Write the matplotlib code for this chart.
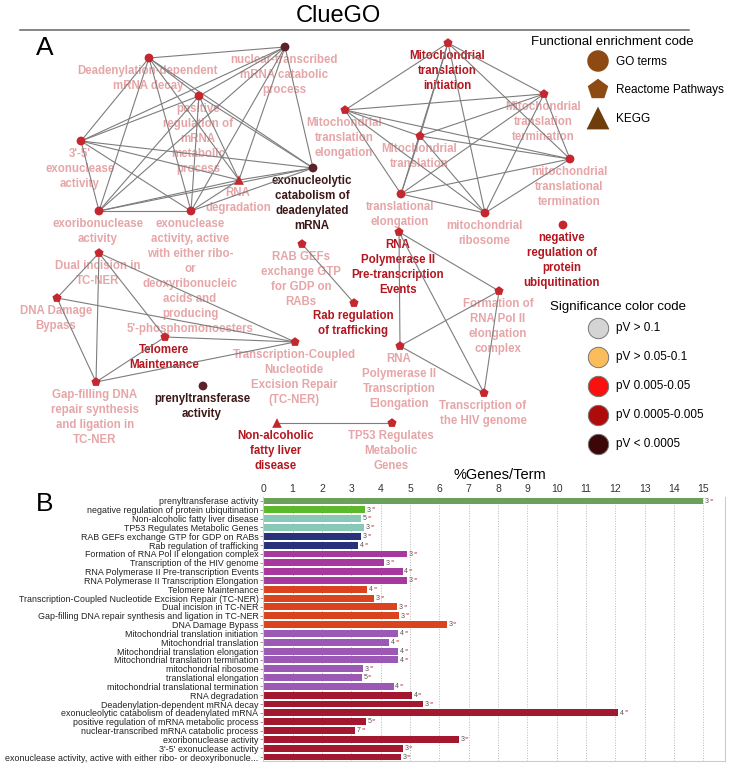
"""
ClueGO network + %Genes/Term bar chart
"""
from itertools import combinations

import matplotlib
matplotlib.use("Agg")
import matplotlib.pyplot as plt

plt.rcParams["font.family"] = ["Liberation Sans", "DejaVu Sans"]

# ---------------- bar chart data (panel B) ----------------
terms = [
    "prenyltransferase activity",
    "negative regulation of protein ubiquitination",
    "Non-alcoholic fatty liver disease",
    "TP53 Regulates Metabolic Genes",
    "RAB GEFs exchange GTP for GDP on RABs",
    "Rab regulation of trafficking",
    "Formation of RNA Pol II elongation complex",
    "Transcription of the HIV genome",
    "RNA Polymerase II Pre-transcription Events",
    "RNA Polymerase II Transcription Elongation",
    "Telomere Maintenance",
    "Transcription-Coupled Nucleotide Excision Repair (TC-NER)",
    "Dual incision in TC-NER",
    "Gap-filling DNA repair synthesis and ligation in TC-NER",
    "DNA Damage Bypass",
    "Mitochondrial translation initiation",
    "Mitochondrial translation",
    "Mitochondrial translation elongation",
    "Mitochondrial translation termination",
    "mitochondrial ribosome",
    "translational elongation",
    "mitochondrial translational termination",
    "RNA degradation",
    "Deadenylation-dependent mRNA decay",
    "exonucleolytic catabolism of deadenylated mRNA",
    "positive regulation of mRNA metabolic process",
    "nuclear-transcribed mRNA catabolic process",
    "exoribonuclease activity",
    "3'-5' exonuclease activity",
    "exonuclease activity, active with either ribo- or deoxyribonucle...",
]
pct_genes = [15.0, 3.47, 3.33, 3.45, 3.33, 3.22, 4.91, 4.11, 4.75, 4.91,
             3.55, 3.79, 4.55, 4.62, 6.25, 4.59, 4.30, 4.59, 4.59, 3.41,
             3.35, 4.44, 5.06, 5.46, 12.1, 3.49, 3.14, 6.66, 4.75, 4.68]
n_genes = [3, 3, 5, 3, 3, 4, 3, 3, 4, 3, 4, 3, 3, 3, 3, 4, 4, 4, 4, 3,
           5, 4, 4, 3, 4, 5, 7, 3, 3, 3]
term_group = [0, 1, 2, 2, 3, 3, 4, 4, 4, 4, 5, 5, 5, 5, 5, 6, 6, 6, 6, 6,
              6, 6, 7, 7, 7, 7, 7, 7, 7, 7]
group_colors = ["#6b9f5a", "#5db92c", "#87c9b6", "#28317a",
                "#a7399e", "#d9441f", "#9b58b4", "#a3172f"]

# ---------------- network data (panel A) ----------------
# key, x, y (pixel layout), shape, label, label style
nodes = [
    ("dead", 149, 58, "o", "Deadenylation-dependent\nmRNA decay", "faded"),
    ("nuc", 285, 47, "o", "nuclear-transcribed\nmRNA catabolic\nprocess", "faded"),
    ("posreg", 199, 96, "o", "positive\nregulation of\nmRNA\nmetabolic\nprocess", "faded"),
    ("exo35", 81, 141, "o", "3'-5'\nexonuclease\nactivity", "faded"),
    ("rnadeg", 239, 180, "^", "RNA\ndegradation", "faded"),
    ("exonucl", 313, 168, "o", "exonucleolytic\ncatabolism of\ndeadenylated\nmRNA", "dark"),
    ("exorib", 99, 211, "o", "exoribonuclease\nactivity", "faded"),
    ("exoact", 191, 211, "o", "exonuclease\nactivity, active\nwith either ribo-\nor\ndeoxyribonucleic\n"
                            "acids and\nproducing\n5'-phosphomonoesters", "faded"),
    ("dual", 99, 253, "p", "Dual incision in\nTC-NER", "faded"),
    ("bypass", 57, 298, "p", "DNA Damage\nBypass", "faded"),
    ("telo", 165, 337, "p", "Telomere\nMaintenance", "red"),
    ("tcner", 295, 342, "p", "Transcription-Coupled\nNucleotide\nExcision Repair\n(TC-NER)", "faded"),
    ("gap", 96, 382, "p", "Gap-filling DNA\nrepair synthesis\nand ligation in\nTC-NER", "faded"),
    ("prenyl", 203, 386, "o", "prenyltransferase\nactivity", "dark"),
    ("nafld", 277, 423, "^", "Non-alcoholic\nfatty liver\ndisease", "red"),
    ("tp53", 392, 423, "p", "TP53 Regulates\nMetabolic\nGenes", "faded"),
    ("rabgef", 302, 244, "p", "RAB GEFs\nexchange GTP\nfor GDP on\nRABs", "faded"),
    ("rabreg", 354, 303, "p", "Rab regulation\nof trafficking", "red"),
    ("pretx", 399, 232, "p", "RNA\nPolymerase II\nPre-transcription\nEvents", "red"),
    ("form", 499, 291, "p", "Formation of\nRNA Pol II\nelongation\ncomplex", "faded"),
    ("polel", 400, 346, "p", "RNA\nPolymerase II\nTranscription\nElongation", "faded"),
    ("hiv", 484, 393, "p", "Transcription of\nthe HIV genome", "faded"),
    ("mtinit", 448, 43, "p", "Mitochondrial\ntranslation\ninitiation", "red"),
    ("mtelong", 345, 110, "p", "Mitochondrial\ntranslation\nelongation", "faded"),
    ("mttrans", 420, 136, "p", "Mitochondrial\ntranslation", "faded"),
    ("mtterm", 544, 94, "p", "Mitochondrial\ntranslation\ntermination", "faded"),
    ("mtlterm", 570, 159, "o", "mitochondrial\ntranslational\ntermination", "faded"),
    ("tlelong", 401, 194, "o", "translational\nelongation", "faded"),
    ("mtribo", 485, 213, "o", "mitochondrial\nribosome", "faded"),
    ("negreg", 563, 225, "o", "negative\nregulation of\nprotein\nubiquitination", "red"),
]
dark_nodes = ["nuc", "exonucl", "prenyl"]

clusters_full = [
    ["dead", "nuc", "posreg", "exo35", "rnadeg", "exonucl", "exorib", "exoact"],
    ["mtinit", "mtelong", "mttrans", "mtterm", "mtlterm", "tlelong", "mtribo"],
    ["pretx", "form", "polel", "hiv"],
]
extra_edges = [
    ("dual", "bypass"), ("dual", "gap"), ("dual", "telo"), ("dual", "tcner"),
    ("bypass", "gap"), ("bypass", "tcner"), ("telo", "gap"), ("telo", "tcner"),
    ("gap", "tcner"),
    ("rabgef", "rabreg"),
    ("nafld", "tp53"),
]

sig_labels = ["pV > 0.1", "pV > 0.05-0.1", "pV 0.005-0.05", "pV 0.0005-0.005", "pV < 0.0005"]
sig_colors = ["#d4d4d4", "#fbbd5c", "#fb1010", "#b00b0b", "#3c0707"]
func_labels = ["GO terms", "Reactome Pathways", "KEGG"]
func_markers = ["o", "p", "^"]
func_colors = ["#8d4a12", "#8d4a12", "#6f3d0c"]

LABEL_COLORS = {"faded": "#e6a6a8", "red": "#b3161f", "dark": "#3d1818"}


def draw_network(bg):
    pos = {k: (x, y) for k, x, y, *_ in nodes}
    edges = list(extra_edges)
    for cl in clusters_full:
        edges += list(combinations(cl, 2))

    for key, x, y, shape, label, style in nodes:
        bg.text(x - 1, y + 7, label, ha="center", va="top", fontsize=8.3,
                fontweight="bold", color=LABEL_COLORS[style],
                linespacing=1.34, zorder=1)

    for a, b in edges:
        (x1, y1), (x2, y2) = pos[a], pos[b]
        bg.plot([x1, x2], [y1, y2], color="#7d7d7d", lw=0.8, zorder=2)

    for key, x, y, shape, label, style in nodes:
        col = "#5b2227" if key in dark_nodes else "#c4272e"
        size = 40 if shape == "o" else 48
        bg.scatter([x], [y], s=size, marker=shape, color=col,
                   edgecolors="none", zorder=3)


def draw_legends(bg):
    bg.text(612, 42, "Functional enrichment code", ha="center", va="center",
            fontsize=9.5)
    for i, (lab, mk, col) in enumerate(zip(func_labels, func_markers, func_colors)):
        y = 61 + i * 28.5
        bg.scatter([598], [y], s=240 if mk != "^" else 270, marker=mk,
                   color=col, edgecolors="none", zorder=3)
        bg.text(616, y + 1, lab, ha="left", va="center", fontsize=8.5)

    bg.text(618, 307, "Significance color code", ha="center", va="center",
            fontsize=9.5)
    for i, (lab, col) in enumerate(zip(sig_labels, sig_colors)):
        y = 328 + i * 29
        bg.scatter([598], [y], s=215, marker="o", color=col,
                   edgecolors="#777777", linewidths=0.7, zorder=3)
        bg.text(616, y, lab, ha="left", va="center", fontsize=8.5)


def draw_bars(ax):
    idx = list(range(len(terms)))
    cols = [group_colors[g] for g in term_group]
    ax.barh(idx, pct_genes, height=0.78, color=cols, zorder=2)
    for i, (v, n) in enumerate(zip(pct_genes, n_genes)):
        ax.annotate(str(n), xy=(v, i), xytext=(1.2, -0.2), textcoords="offset points",
                    fontsize=5, color="#555555", va="center", ha="left")
        ax.annotate("**", xy=(v, i), xytext=(4.8, 0.6), textcoords="offset points",
                    fontsize=4, color="#d03030", va="center", ha="left")

    ax.set_xlim(0, 15.74)
    ax.set_ylim(29.45, -0.45)
    ax.set_xticks(range(16))
    ax.xaxis.tick_top()
    ax.tick_params(axis="x", length=0, pad=2, labelsize=7.5, colors="#333333")
    ax.set_yticks(idx)
    ax.set_yticklabels(terms, fontsize=6.4, color="#222222")
    ax.tick_params(axis="y", length=2.5, width=0.6, color="#888888", pad=1)
    ax.grid(axis="x", linestyle=":", color="#b8b8b8", lw=0.7)
    ax.set_axisbelow(True)
    for side in ["left", "right", "bottom"]:
        ax.spines[side].set_color("#cccccc")
        ax.spines[side].set_linewidth(0.8)
    ax.spines["top"].set_visible(False)


def main():
    fig = plt.figure(figsize=(7.36, 7.71), dpi=100)
    fig.patch.set_facecolor("white")

    bg = fig.add_axes([0, 0, 1, 1])
    bg.set_xlim(0, 736)
    bg.set_ylim(771, 0)
    bg.axis("off")

    bg.text(338, 16, "ClueGO", ha="center", va="center", fontsize=17)
    bg.plot([20, 689], [30, 30], color="#666666", lw=1.1)
    bg.text(45, 48, "A", ha="center", va="center", fontsize=19)
    bg.text(45, 504, "B", ha="center", va="center", fontsize=19)
    bg.text(500, 475, "%Genes/Term", ha="center", va="center", fontsize=10.5)

    draw_network(bg)
    draw_legends(bg)

    ax = fig.add_axes([263.3 / 736, 1 - 761 / 771, (725 - 263.3) / 736, (761 - 497) / 771])
    draw_bars(ax)

    fig.savefig("out.png", dpi=100, facecolor="white")


if __name__ == "__main__":
    main()
